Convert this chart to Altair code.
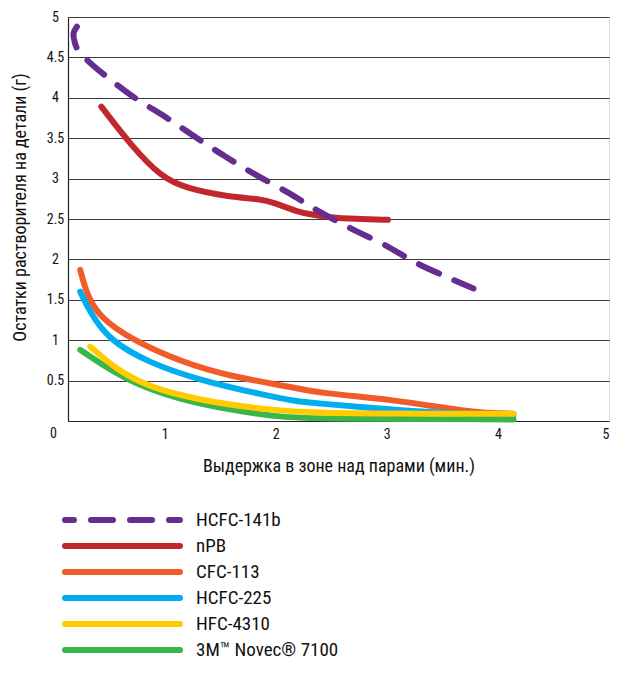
import altair as alt
import pandas as pd

FONT = "Liberation Sans Narrow, Roboto Condensed, DejaVu Sans Condensed, sans-serif"

series = ["HCFC-141b", "nPB", "CFC-113", "HCFC-225", "HFC-4310", "3M™ Novec® 7100"]
colors = ["#662d91", "#c1272d", "#f15a29", "#00aeef", "#ffcc00", "#39b54a"]
dashes = [[22, 17], [1, 0], [1, 0], [1, 0], [1, 0], [1, 0]]

# HCFC-141b (dashed)
hcfc141b_x = [0.21, 0.18, 0.19, 0.22, 0.30, 0.47, 0.72, 1.01, 1.27, 1.55, 1.83, 2.12, 2.37, 2.68, 2.98, 3.26, 3.56, 3.78]
hcfc141b_y = [4.88, 4.80, 4.69, 4.59, 4.47, 4.27, 4.01, 3.76, 3.52, 3.27, 3.04, 2.82, 2.61, 2.38, 2.18, 1.96, 1.77, 1.64]
# nPB
npb_x = [0.43, 0.71, 0.97, 1.19, 1.59, 1.86, 1.99, 2.19, 2.34, 2.48, 2.72, 3.01]
npb_y = [3.89, 3.39, 3.02, 2.88, 2.77, 2.75, 2.70, 2.59, 2.55, 2.52, 2.50, 2.49]
# CFC-113
cfc113_x = [0.24, 0.30, 0.41, 0.71, 1.15, 1.59, 2.19, 2.37, 3.08, 3.52, 3.85, 4.14]
cfc113_y = [1.87, 1.56, 1.29, 1.00, 0.73, 0.55, 0.41, 0.35, 0.26, 0.16, 0.10, 0.09]
# HCFC-225
hcfc225_x = [0.24, 0.33, 0.50, 0.86, 1.30, 1.90, 2.19, 2.37, 2.79, 3.37, 3.80, 4.14]
hcfc225_y = [1.60, 1.34, 1.00, 0.72, 0.51, 0.32, 0.24, 0.22, 0.17, 0.11, 0.085, 0.075]
# HFC-4310
hfc4310_x = [0.33, 0.57, 0.86, 1.30, 1.90, 2.37, 3.00, 4.14]
hfc4310_y = [0.92, 0.63, 0.42, 0.26, 0.14, 0.10, 0.09, 0.09]
# 3M Novec 7100
novec_x = [0.24, 0.41, 0.71, 1.15, 1.59, 2.04, 2.60, 4.14]
novec_y = [0.88, 0.72, 0.47, 0.26, 0.14, 0.04, 0.025, 0.02]

x_ticks = [1, 2, 3, 4, 5]
y_ticks = [0.5, 1, 1.5, 2, 2.5, 3, 3.5, 4, 4.5, 5]

# draw order: purple last (on top)
solid = [("nPB", npb_x, npb_y), ("CFC-113", cfc113_x, cfc113_y), ("HCFC-225", hcfc225_x, hcfc225_y),
         ("3M™ Novec® 7100", novec_x, novec_y), ("HFC-4310", hfc4310_x, hfc4310_y)]
rows = []
for name, xs, ys in solid:
    for i, (a, b) in enumerate(zip(xs, ys)):
        rows.append({"series": name, "x": a, "y": b, "i": i})
df_solid = pd.DataFrame(rows)
df_dash = pd.DataFrame({"series": "HCFC-141b", "x": hcfc141b_x, "y": hcfc141b_y,
                        "i": list(range(len(hcfc141b_x)))})
df_leg = pd.DataFrame({"series": series})

xscale = alt.Scale(domain=[0.13, 5], nice=False, zero=False)
yscale = alt.Scale(domain=[0, 5], nice=False)
cscale = alt.Scale(domain=series, range=colors)
dscale = alt.Scale(domain=series, range=dashes)

lines = alt.Chart(df_solid).mark_line(strokeWidth=6, strokeCap="round", strokeJoin="round",
                                      interpolate="basis").encode(
    x=alt.X("x:Q", scale=xscale,
            axis=alt.Axis(values=x_ticks, format="~g", title="Выдержка в зоне над парами (мин.)", grid=False,
                          ticks=False, tickSize=0, labelPadding=6, labelFontSize=14,
                          labelColor="#111", domainColor="#222", domainWidth=1.2,
                          titleFontSize=18, titleFontWeight="normal", titlePadding=16,
                          titleColor="#111", labelFont=FONT, titleFont=FONT)),
    y=alt.Y("y:Q", scale=yscale,
            axis=alt.Axis(values=y_ticks, format="~g", title="Остатки растворителя на детали (г)", grid=True,
                          gridColor="#3a3a3a", gridWidth=1.2, ticks=False, tickSize=0,
                          labelAlign="center", labelPadding=13, labelFontSize=14,
                          labelColor="#111", domainColor="#222", domainWidth=1.2,
                          titleFontSize=18, titleFontWeight="normal", titlePadding=17,
                          titleColor="#111", titleY=190, labelFont=FONT, titleFont=FONT)),
    color=alt.Color("series:N", scale=cscale, legend=None),
    order=alt.Order("i:Q"),
)

dashed = alt.Chart(df_dash).mark_line(strokeWidth=6, strokeCap="round", strokeJoin="round",
                                      strokeDash=[22, 17], interpolate="catmull-rom").encode(
    x=alt.X("x:Q", scale=xscale),
    y=alt.Y("y:Q", scale=yscale),
    color=alt.Color("series:N", scale=cscale, legend=None),
    order=alt.Order("i:Q"),
)

zero = alt.Chart(pd.DataFrame({"t": ["0"]})).mark_text(
    font=FONT, fontSize=14, baseline="top", align="center", dy=6, color="#111").encode(
    x=alt.datum(0, scale=xscale), y=alt.datum(0, scale=yscale), text="t:N")

main = alt.layer(lines, dashed, zero)

legy = alt.Y("series:N", scale=alt.Scale(domain=series, type="point", padding=0, range=[503, 633]),
             axis=None)
leg_rule = alt.Chart(df_leg).mark_rule(strokeWidth=6, strokeCap="round", strokeDashOffset=13).encode(
    x=alt.value(-3), x2=alt.value(112), y=legy,
    color=alt.Color("series:N", scale=cscale, legend=None),
    strokeDash=alt.StrokeDash("series:N", scale=dscale, legend=None),
)
leg_text = alt.Chart(df_leg).mark_text(font=FONT, fontSize=19, align="left", baseline="middle",
                                       color="#111").encode(
    x=alt.value(128), y=legy, text="series:N")
legend = alt.layer(leg_rule, leg_text)

chart = alt.layer(main, legend).resolve_scale(y="independent").properties(
    width=541, height=404,
    autosize=alt.AutoSizeParams(type="none"),
    padding={"left": 60, "top": 9, "right": 1, "bottom": 245},
).configure_view(stroke="#222", strokeWidth=1.2).configure(background="white")

chart.save("out.html", embed_options={"renderer": "svg", "actions": False})
